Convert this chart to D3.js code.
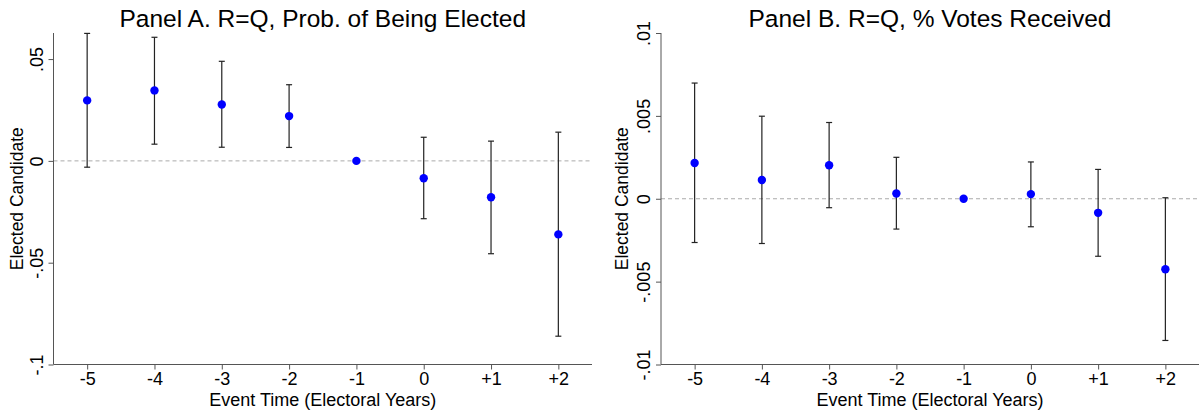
<!DOCTYPE html>
<body style="margin:0;background:#fff">
<svg width="1203" height="414" font-family="'Liberation Sans', Arial, sans-serif"></svg>
</body>
<script src="https://d3js.org/d3.v7.min.js"></script>
<script>

var eventTimes = [-5, -4, -3, -2, -1, 0, 1, 2];
var tickLabels = ["-5", "-4", "-3", "-2", "-1", "0", "+1", "+2"];

// Panel A: prob. of being elected
var estA = [0.0297, 0.0346, 0.0277, 0.0220, 0, -0.0085, -0.0179, -0.0361];
var loA  = [-0.0031, 0.0082, 0.0067, 0.0066, null, -0.0284, -0.0456, -0.0861];
var hiA  = [0.0626, 0.0607, 0.0489, 0.0374, null, 0.0116, 0.0097, 0.0141];
var yTicksA = [-0.1, -0.05, 0, 0.05];
var yLabelsA = ["-.1", "-.05", "0", ".05"];

// Panel B: % votes received
var estB = [0.00216, 0.00113, 0.00202, 0.00032, 0, 0.00028, -0.00085, -0.00425];
var loB  = [-0.00264, -0.0027, -0.00054, -0.00183, null, -0.00169, -0.00347, -0.00855];
var hiB  = [0.00698, 0.00498, 0.0046, 0.0025, null, 0.00222, 0.00177, 0.00006];
var yTicksB = [-0.01, -0.005, 0, 0.005, 0.01];
var yLabelsB = ["-.01", "-.005", "0", ".005", ".01"];

var svg = d3.select("svg");

function panel(opts) {
  var x = d3.scaleLinear().domain([-5.5, 2.5]).range([opts.left, opts.right]);
  var y = d3.scaleLinear().domain(opts.yDomain).range([364.5, 33]);
  var g = svg.append("g");
  var axisColor = "#555";

  // title
  g.append("text")
    .attr("x", (opts.left + opts.right) / 2)
    .attr("y", 27)
    .attr("text-anchor", "middle")
    .attr("font-size", 24.5)
    .text(opts.title);

  // zero line
  g.append("line")
    .attr("x1", opts.left).attr("x2", opts.right)
    .attr("y1", y(0)).attr("y2", y(0))
    .attr("stroke", "#aaa")
    .attr("stroke-dasharray", "4,3");

  // y axis
  var yAxis = g.append("g")
    .attr("transform", "translate(" + opts.left + ",0)")
    .call(d3.axisLeft(y).tickValues(opts.yTicks).tickSize(5).tickFormat(function(d, i) { return opts.yLabels[i]; }));
  yAxis.select(".domain").attr("stroke", axisColor).attr("d", "M0," + y.range()[0] + "V" + y.range()[1]);
  yAxis.selectAll(".tick line").attr("stroke", axisColor);
  yAxis.selectAll(".tick text")
    .attr("font-size", 18)
    .attr("fill", "#000")
    .attr("text-anchor", "middle")
    .attr("transform", "rotate(-90)")
    .attr("x", 0)
    .attr("y", -11)
    .attr("dy", 0);

  g.append("text")
    .attr("transform", "translate(" + opts.ytitleX + "," + ((y.range()[0] + y.range()[1]) / 2) + ") rotate(-90)")
    .attr("text-anchor", "middle")
    .attr("font-size", 17.5)
    .text("Elected Candidate");

  // x axis
  var xAxis = g.append("g")
    .attr("transform", "translate(0," + y.range()[0] + ")")
    .call(d3.axisBottom(x).tickValues(eventTimes).tickSize(5).tickFormat(function(d, i) { return tickLabels[i]; }));
  xAxis.select(".domain").attr("stroke", axisColor).attr("d", "M" + opts.left + ",0H" + opts.right);
  xAxis.selectAll(".tick line").attr("stroke", axisColor);
  xAxis.selectAll(".tick text").attr("font-size", 18).attr("fill", "#000").attr("y", 8);

  g.append("text")
    .attr("x", (opts.left + opts.right) / 2)
    .attr("y", 406)
    .attr("text-anchor", "middle")
    .attr("font-size", 18)
    .text("Event Time (Electoral Years)");

  // error bars
  var bars = eventTimes.map(function(t, i) {
    return {t: t, est: opts.est[i], lo: opts.lo[i], hi: opts.hi[i]};
  });
  var ci = g.selectAll(".ci").data(bars.filter(function(d) { return d.lo !== null; }))
    .enter().append("g").attr("stroke", "#222").attr("stroke-width", 1.2);
  ci.append("line")
    .attr("x1", function(d) { return x(d.t); }).attr("x2", function(d) { return x(d.t); })
    .attr("y1", function(d) { return y(d.lo); }).attr("y2", function(d) { return y(d.hi); });
  ci.append("line")
    .attr("x1", function(d) { return x(d.t) - 3; }).attr("x2", function(d) { return x(d.t) + 3; })
    .attr("y1", function(d) { return y(d.lo); }).attr("y2", function(d) { return y(d.lo); });
  ci.append("line")
    .attr("x1", function(d) { return x(d.t) - 3; }).attr("x2", function(d) { return x(d.t) + 3; })
    .attr("y1", function(d) { return y(d.hi); }).attr("y2", function(d) { return y(d.hi); });

  g.selectAll(".pt").data(bars).enter().append("circle")
    .attr("cx", function(d) { return x(d.t); })
    .attr("cy", function(d) { return y(d.est); })
    .attr("r", 4.2)
    .attr("fill", "#0000ff");
}

panel({left: 53.5, right: 592, yDomain: [-0.1, 0.0628], yTicks: yTicksA, yLabels: yLabelsA,
       est: estA, lo: loA, hi: hiA, ytitleX: 23, title: "Panel A. R=Q, Prob. of Being Elected"});
panel({left: 661, right: 1199, yDomain: [-0.01, 0.01], yTicks: yTicksB, yLabels: yLabelsB,
       est: estB, lo: loB, hi: hiB, ytitleX: 628, title: "Panel B. R=Q, % Votes Received"});

</script>
